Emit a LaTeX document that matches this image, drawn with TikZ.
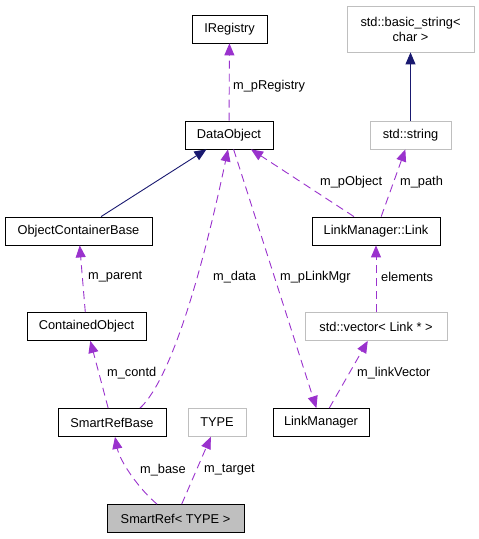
\documentclass[tikz,border=0pt]{standalone}
\usepackage{fontspec}
\setmainfont{Liberation Sans}
\usetikzlibrary{arrows.meta}
\definecolor{memberpurple}{HTML}{9A32CD}
\definecolor{basenavy}{HTML}{191970}
\definecolor{extgray}{HTML}{BFBFBF}
\tikzset{
  cls/.style={draw=black,line width=0.8bp,minimum height=28bp,inner sep=0pt,font=\fontsize{12.8bp}{15bp}\selectfont},
  extcls/.style={cls,draw=extgray},
  member/.style={draw=memberpurple,line width=0.9bp,dash pattern=on 8bp off 5bp,-{Triangle[length=12bp,width=10bp,fill=memberpurple]}},
  inherit/.style={draw=basenavy,line width=0.9bp,-{Triangle[length=12bp,width=10bp,fill=basenavy]}},
  lbl/.style={anchor=west,inner sep=0pt,font=\fontsize{12.8bp}{15bp}\selectfont}
}
\begin{document}
\begin{tikzpicture}[x=1bp,y=-1bp]
  \useasboundingbox (0,0) rectangle (479,539);
  % classes
  \node[cls,minimum width=75bp](ireg)at(229.5,29){IRegistry};
  \node[extcls,minimum width=127bp,minimum height=46bp,align=center](bstr)at(410.5,29){std::basic\_string<\\char >};
  \node[cls,minimum width=88bp](dobj)at(229,135){DataObject};
  \node[extcls,minimum width=81bp](str)at(410.5,135){std::string};
  \node[cls,minimum width=147bp](ocb)at(78.5,231){ObjectContainerBase};
  \node[cls,minimum width=128bp](link)at(376,231){LinkManager::Link};
  \node[cls,minimum width=119bp](cobj)at(86.5,326.5){ContainedObject};
  \node[extcls,minimum width=142bp](vec)at(376,326.5){std::vector< Link * >};
  \node[cls,minimum width=108bp](srb)at(112,422.5){SmartRefBase};
  \node[extcls,minimum width=58bp](type)at(217,422.5){TYPE};
  \node[cls,minimum width=96bp](lmgr)at(321,422.5){LinkManager};
  \node[cls,fill=extgray,minimum width=137bp](sref)at(175.5,518.5){SmartRef< TYPE >};
  % inheritance
  \draw[inherit](str)--(bstr);
  \draw[inherit](ocb)--(dobj);
  % members
  \draw[member](dobj)--(ireg);
  \draw[member](link)--(dobj);
  \draw[member](link)--(str);
  \draw[member](vec)--(link);
  \draw[member](lmgr)--(vec);
  \draw[member](dobj)--(lmgr);
  \draw[member](cobj)--(ocb);
  \draw[member](srb)--(cobj);
  \draw[member]([xshift=28bp]srb.north)..controls(165,385)and(195,305)..([xshift=-1bp]dobj.south);
  \draw[member]([xshift=-18.5bp]sref.north)..controls(140,490)and(120,462)..([xshift=3bp]srb.south);
  \draw[member](sref)--(type);
  % labels
  \node[lbl](lreg)at(233,86){m\_pRegistry};
  \node[lbl](lobj)at(320,182){m\_pObject};
  \node[lbl](lpath)at(400,182){m\_path};
  \node[lbl](lpar)at(88,277){m\_parent};
  \node[lbl](ldata)at(213,277){m\_data};
  \node[lbl](lmgrlbl)at(280,277){m\_pLinkMgr};
  \node[lbl](lelem)at(381,277){elements};
  \node[lbl](lcontd)at(107,373){m\_contd};
  \node[lbl](lvec)at(357,373){m\_linkVector};
  \node[lbl](lbase)at(140,470){m\_base};
  \node[lbl](ltarget)at(204,470){m\_target};
\end{tikzpicture}
\end{document}
